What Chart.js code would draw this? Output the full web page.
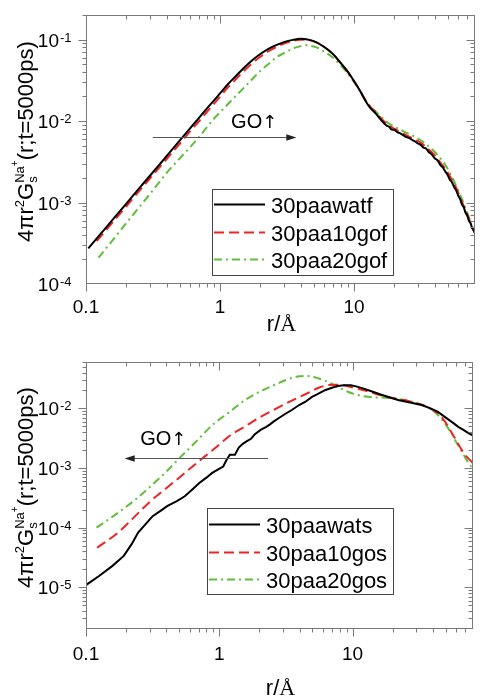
<!DOCTYPE html>
<html>
<head>
<meta charset="utf-8">
<script src="https://cdn.jsdelivr.net/npm/chart.js@4/dist/chart.umd.min.js"></script>
<style>
  html, body { margin: 0; padding: 0; background: #fff; }
  #wrap { position: relative; width: 487px; height: 696px; }
  canvas { position: absolute; left: 0; display: block; }
  #c1 { top: 0; }
  #c2 { top: 340px; }
</style>
</head>
<body>
<div id="wrap">
  <canvas id="c1" width="487" height="340"></canvas>
  <canvas id="c2" width="487" height="356"></canvas>
</div>
<script>
// ---------- data: r in Å, 4πr²Gs(r; t=5000 ps) ----------
// upper panel (…f series)
const rWatF = [0.104, 0.13, 0.16, 0.2, 0.25, 0.3, 0.4, 0.5, 0.6, 0.7, 0.8, 0.9, 1.0, 1.15, 1.3, 1.5, 1.75, 2.0, 2.3, 2.65, 3.0, 3.5, 4.0, 4.5, 5.2, 6.0, 7.0, 8.0, 9.0, 10, 11, 12, 13, 14.5, 16, 17.5, 18.3, 19, 20, 21, 22, 23, 24, 25, 26.2, 27.5, 28.7, 30, 31.5, 33, 34.5, 36, 38, 40, 42, 44, 46, 48, 50, 52, 54, 56, 58, 60, 62, 64, 66, 68, 70, 72, 74, 76, 78, 80];
const gWatF = [2.73e-4, 4.21e-4, 6.3e-4, 9.7e-4, 1.5e-3, 2.13e-3, 3.72e-3, 5.74e-3, 8.2e-3, 0.011, 0.0143, 0.0178, 0.0218, 0.0285, 0.035, 0.0445, 0.056, 0.0665, 0.077, 0.086, 0.093, 0.099, 0.102, 0.1, 0.093, 0.081, 0.066, 0.051, 0.04, 0.031, 0.024, 0.0185, 0.015, 0.0124, 0.0102, 0.0088, 0.0085, 0.0079, 0.0078, 0.0073, 0.0071, 0.0068, 0.0065, 0.0063, 0.0061, 0.0058, 0.0056, 0.0053, 0.0051, 0.0047, 0.0046, 0.0042, 0.0039, 0.0035, 0.0033, 0.0029, 0.0027, 0.0024, 0.00218, 0.0019, 0.00176, 0.00154, 0.0014, 0.00121, 0.0011, 9.4e-4, 8.7e-4, 7.5e-4, 6.9e-4, 6.0e-4, 5.6e-4, 4.9e-4, 4.6e-4, 4.2e-4];

const r10goF = [0.12, 0.16, 0.2, 0.25, 0.3, 0.4, 0.5, 0.6, 0.7, 0.8, 0.9, 1.0, 1.15, 1.3, 1.5, 1.75, 2.0, 2.3, 2.65, 3.0, 3.5, 4.0, 4.5, 5.2, 6.0, 7.0, 8.0, 9.0, 10, 11, 12, 13, 14.5, 16, 17.5, 19, 21, 23, 25, 27.5, 30, 33, 36, 40, 44, 48, 52, 56, 60, 64, 68, 72, 76, 80];
const g10goF = [3.35e-4, 5.85e-4, 9.0e-4, 1.39e-3, 1.97e-3, 3.42e-3, 5.25e-3, 7.5e-3, 0.01, 0.013, 0.0162, 0.0198, 0.026, 0.032, 0.0408, 0.0515, 0.0615, 0.072, 0.0815, 0.089, 0.096, 0.0995, 0.099, 0.093, 0.081, 0.066, 0.051, 0.04, 0.031, 0.0242, 0.0188, 0.0155, 0.0128, 0.0107, 0.0093, 0.0084, 0.0077, 0.0071, 0.0066, 0.0061, 0.0057, 0.0051, 0.0045, 0.0038, 0.0031, 0.0026, 0.0021, 0.0017, 0.00132, 0.00102, 8.0e-4, 6.4e-4, 5.0e-4, 4.2e-4];

const r20goF = [0.124, 0.16, 0.2, 0.25, 0.3, 0.35, 0.416, 0.5, 0.6, 0.665, 0.8, 0.88, 1.0, 1.157, 1.3, 1.53, 1.75, 2.02, 2.3, 2.66, 3.0, 3.5, 4.0, 4.4, 5.0, 5.5, 6.0, 6.8, 8.0, 9.0, 10, 11, 12, 13, 14.5, 16, 17.5, 19, 21, 23, 25, 27.5, 30, 33, 36, 40, 44, 48, 52, 56, 60, 64, 68, 72, 76, 80];
const g20goF = [2.1e-4, 3.53e-4, 5.6e-4, 8.8e-4, 1.27e-3, 1.75e-3, 2.49e-3, 3.47e-3, 4.8e-3, 5.8e-3, 8.4e-3, 0.0102, 0.0128, 0.0164, 0.02, 0.0262, 0.033, 0.042, 0.05, 0.061, 0.068, 0.0776, 0.083, 0.085, 0.082, 0.0776, 0.071, 0.062, 0.048, 0.038, 0.030, 0.024, 0.0188, 0.0157, 0.0131, 0.0112, 0.0098, 0.0089, 0.0082, 0.0076, 0.0071, 0.0066, 0.0061, 0.0055, 0.0049, 0.0042, 0.0035, 0.0029, 0.0023, 0.0018, 0.0014, 0.0011, 8.5e-4, 6.6e-4, 5.1e-4, 4.3e-4];

// lower panel (…s series)
const rWatS = [0.1, 0.126, 0.158, 0.192, 0.22, 0.246, 0.28, 0.316, 0.36, 0.406, 0.48, 0.551, 0.63, 0.708, 0.8, 0.885, 0.98, 1.07, 1.13, 1.2, 1.31, 1.4, 1.5, 1.6, 1.73, 1.85, 2.04, 2.25, 2.4, 2.55, 2.8, 3.18, 3.5, 3.97, 4.4, 4.96, 5.5, 6.2, 7.0, 7.74, 8.6, 9.7, 10.8, 12.1, 14, 16, 19, 22.3, 27, 32.9, 38, 43.4, 50, 57.4, 62, 67.8, 72, 75.7, 78, 80];
const gWatS = [1.09e-5, 1.56e-5, 2.29e-5, 3.36e-5, 5.3e-5, 8.3e-5, 1.15e-4, 1.56e-4, 1.9e-4, 2.29e-4, 2.8e-4, 3.36e-4, 4.4e-4, 5.6e-4, 6.9e-4, 8.3e-4, 9.5e-4, 1.06e-3, 1.35e-3, 1.67e-3, 1.67e-3, 2.2e-3, 2.55e-3, 2.8e-3, 3.1e-3, 3.7e-3, 4.35e-3, 4.9e-3, 5.4e-3, 6.0e-3, 6.9e-3, 8.3e-3, 9.4e-3, 0.0114, 0.0128, 0.0156, 0.0175, 0.0202, 0.0222, 0.0238, 0.0244, 0.0245, 0.0232, 0.0215, 0.0192, 0.0173, 0.0152, 0.0137, 0.0126, 0.0114, 0.0101, 8.8e-3, 7.0e-3, 5.6e-3, 4.9e-3, 4.35e-3, 4.0e-3, 3.73e-3, 3.6e-3, 3.8e-3];

const r10goS = [0.121, 0.174, 0.25, 0.304, 0.4, 0.5, 0.6, 0.7, 0.85, 1.0, 1.22, 1.54, 2.0, 2.69, 3.5, 4.7, 5.5, 6.5, 7.5, 8.5, 10, 12, 15, 20, 25, 30, 35, 40, 45, 51.3, 55, 60.6, 66, 71.6, 77.8, 80];
const g10goS = [4.6e-5, 8.3e-5, 1.81e-4, 2.77e-4, 4.6e-4, 6.9e-4, 9.7e-4, 1.29e-3, 1.84e-3, 2.48e-3, 3.59e-3, 4.9e-3, 7.0e-3, 0.01, 0.0135, 0.0185, 0.022, 0.0245, 0.025, 0.0245, 0.0225, 0.0203, 0.0175, 0.015, 0.0137, 0.0122, 0.011, 0.0094, 0.0078, 5.27e-3, 4.0e-3, 2.77e-3, 2.0e-3, 1.56e-3, 1.29e-3, 1.2e-3];

const r20goS = [0.12, 0.174, 0.24, 0.304, 0.4, 0.5, 0.65, 0.9, 1.2, 1.55, 2.1, 2.68, 3.3, 4.0, 4.5, 5.5, 6.5, 7.3, 8.2, 9.2, 10.2, 12, 13.5, 15.5, 17.8, 21, 25, 31, 36, 41, 46, 51.3, 56, 60.6, 66, 71.6, 77.8, 80];
const g20goS = [1.0e-4, 1.78e-4, 3.08e-4, 4.9e-4, 8.7e-4, 1.45e-3, 2.6e-3, 5.4e-3, 8.8e-3, 0.0137, 0.02, 0.0255, 0.031, 0.0345, 0.035, 0.032, 0.028, 0.0245, 0.0215, 0.019, 0.0175, 0.016, 0.0155, 0.0152, 0.0151, 0.0145, 0.0137, 0.0121, 0.0106, 8.8e-3, 6.8e-3, 4.9e-3, 3.6e-3, 2.6e-3, 1.9e-3, 1.37e-3, 1.06e-3, 1.0e-3];

const namesTop = ['30paawatf', '30paa10gof', '30paa20gof'];
const namesBottom = ['30paawats', '30paa10gos', '30paa20gos'];
const xTickLabels = ['0.1', '1', '10'];
const yExpTop = [-4, -3, -2, -1];
const yExpBottom = [-5, -4, -3, -2];

// ---------- styling ----------
const FONT = "'Liberation Sans', Arial, sans-serif";
const SERIF = "'Liberation Serif', 'Times New Roman', serif";
const ARROWFONT = "'DejaVu Sans', sans-serif";
const AXIS = '#7a7a7a';
const COLORS = ['#000000', '#ee2424', '#62bd3a'];
const DASHES = [[], [10, 5], [8, 4, 2, 4]];

function isDecade(v) {
  const l = Math.log10(v);
  return Math.abs(l - Math.round(l)) < 1e-6;
}
function isWholeStep(v) {
  const m = v / Math.pow(10, Math.floor(Math.log10(v) + 1e-9));
  return Math.abs(m - Math.round(m)) < 1e-6;
}

// frame, mirrored ticks, y tick labels with exponents, axis titles
const axesDecor = {
  id: 'axesDecor',
  afterDatasetsDraw(chart, args, o) {
    const { ctx, chartArea: a } = chart;
    const xs = chart.scales.x, ys = chart.scales.y;
    const L = Math.round(a.left) + 0.5, R = Math.round(a.right) - 0.5;
    const T = Math.round(a.top) + 0.5, B = Math.round(a.bottom) - 0.5;
    ctx.save();
    ctx.strokeStyle = AXIS;
    ctx.lineWidth = 1;
    ctx.strokeRect(L, T, R - L, B - T);
    ctx.beginPath();
    xs.ticks.forEach(t => {
      if (!isWholeStep(t.value)) return;
      const px = Math.round(xs.getPixelForValue(t.value)) + 0.5;
      if (px < L - 0.2 || px > R + 0.2) return;
      const len = isDecade(t.value) ? 8 : 4;
      ctx.moveTo(px, B); ctx.lineTo(px, B + len);
      ctx.moveTo(px, T); ctx.lineTo(px, T + len);
    });
    ys.ticks.forEach(t => {
      if (!isWholeStep(t.value)) return;
      const py = Math.round(ys.getPixelForValue(t.value)) + 0.5;
      if (py < T - 0.2 || py > B + 0.2) return;
      const len = isDecade(t.value) ? 8 : 4;
      ctx.moveTo(L, py); ctx.lineTo(L - len, py);
      ctx.moveTo(R, py); ctx.lineTo(R - len, py);
    });
    ctx.stroke();

    // y tick labels: 10 with a raised exponent
    ctx.fillStyle = '#000';
    ctx.textBaseline = 'alphabetic';
    o.yExps.forEach(e => {
      const py = ys.getPixelForValue(Math.pow(10, e));
      ctx.font = `19px ${FONT}`;
      ctx.textAlign = 'right';
      ctx.fillText('10', 59, py + 7);
      ctx.font = `13px ${FONT}`;
      ctx.textAlign = 'left';
      ctx.fillText('-' + Math.abs(e), 60, py + 2);
    });

    // x axis title: r/Å
    ctx.textAlign = 'left';
    ctx.font = `22px ${FONT}`;
    const w1 = ctx.measureText('r/').width;
    ctx.font = `22px ${SERIF}`;
    const w2 = ctx.measureText('Å').width;
    const cx = (a.left + a.right) / 2 + 1;
    ctx.font = `22px ${FONT}`;
    ctx.fillText('r/', cx - (w1 + w2) / 2, o.xTitleBase);
    ctx.font = `22px ${SERIF}`;
    ctx.fillText('Å', cx - (w1 + w2) / 2 + w1, o.xTitleBase);

    // y axis title: 4πr²Gs^Na+(r;t=5000ps), rotated
    const big = `22px ${FONT}`, small = `13px ${FONT}`, tiny = `10px ${FONT}`;
    const mw = (f, t) => { ctx.font = f; return ctx.measureText(t).width; };
    const wA = mw(big, '4πr'), w2s = mw(small, '2'), wG = mw(big, 'G');
    const wS = mw(small, 's'), wNa = mw(small, 'Na'), wP = mw(tiny, '+');
    const wR = mw(big, '(r;t=5000ps)');
    const wStack = Math.max(wS, wNa + wP);
    const total = wA + w2s + wG + wStack + wR;
    ctx.save();
    ctx.translate(33, (a.top + a.bottom) / 2 - 8);
    ctx.rotate(-Math.PI / 2);
    let x = -total / 2;
    ctx.font = big; ctx.fillText('4πr', x, 0); x += wA;
    ctx.font = small; ctx.fillText('2', x, -9); x += w2s;
    ctx.font = big; ctx.fillText('G', x, 0); x += wG;
    ctx.font = small; ctx.fillText('s', x, 4); ctx.fillText('Na', x, -9);
    ctx.font = tiny; ctx.fillText('+', x + wNa, -15); x += wStack;
    ctx.font = big; ctx.fillText('(r;t=5000ps)', x, 0);
    ctx.restore();
    ctx.restore();
  }
};

// "GO↑" arrow drawn in data coordinates
const goArrow = {
  id: 'goArrow',
  afterDatasetsDraw(chart, args, o) {
    const { ctx } = chart;
    const xs = chart.scales.x, ys = chart.scales.y;
    const x0 = xs.getPixelForValue(o.from), x1 = xs.getPixelForValue(o.to);
    const y = Math.round(ys.getPixelForValue(o.at)) + 0.5;
    const dir = Math.sign(x1 - x0);
    ctx.save();
    ctx.strokeStyle = '#555';
    ctx.lineWidth = 1;
    ctx.beginPath(); ctx.moveTo(x0, y); ctx.lineTo(x1 - dir * 6, y); ctx.stroke();
    ctx.fillStyle = '#222';
    ctx.beginPath();
    ctx.moveTo(x1, y); ctx.lineTo(x1 - dir * 10, y - 3.2); ctx.lineTo(x1 - dir * 10, y + 3.2);
    ctx.closePath(); ctx.fill();
    ctx.fillStyle = '#000';
    ctx.textAlign = 'left';
    ctx.textBaseline = 'alphabetic';
    const tx = xs.getPixelForValue(o.textAt[0]), ty = ys.getPixelForValue(o.textAt[1]);
    ctx.font = `20px ${FONT}`;
    ctx.fillText('GO', tx, ty);
    const wGO = ctx.measureText('GO').width;
    ctx.font = `18px ${ARROWFONT}`;
    ctx.fillText('↑', tx + wGO, ty);
    ctx.restore();
  }
};

// boxed legend inside the plot
const boxLegend = {
  id: 'boxLegend',
  afterDraw(chart, args, o) {
    const { ctx } = chart;
    const b = o.box;
    ctx.save();
    ctx.fillStyle = '#fff';
    ctx.fillRect(b.x, b.y, b.w, b.h);
    ctx.strokeStyle = '#444';
    ctx.lineWidth = 1;
    ctx.strokeRect(Math.round(b.x) + 0.5, Math.round(b.y) + 0.5, b.w, b.h);
    chart.data.datasets.forEach((ds, i) => {
      const y = Math.round(b.y + b.rows[i]) + 0.5;
      ctx.strokeStyle = ds.borderColor;
      ctx.lineWidth = 2;
      ctx.setLineDash(ds.borderDash || []);
      ctx.beginPath(); ctx.moveTo(b.x + 2, y); ctx.lineTo(b.x + 53, y); ctx.stroke();
      ctx.setLineDash([]);
      ctx.fillStyle = '#000';
      ctx.font = `22px ${FONT}`;
      ctx.textAlign = 'left';
      ctx.textBaseline = 'alphabetic';
      ctx.fillText(ds.label, b.x + 59, y + 8);
    });
    ctx.restore();
  }
};

function makePanel(canvasId, p) {
  const datasets = p.series.map((s, i) => ({
    label: p.names[i],
    data: s.r.map((r, k) => ({ x: r, y: s.v[k] })),
    borderColor: COLORS[i],
    borderWidth: 2,
    borderDash: DASHES[i],
    pointRadius: 0,
    fill: false,
    tension: s.jagged ? 0 : 0.4,
    cubicInterpolationMode: s.jagged ? 'default' : 'monotone'
  }));
  return new Chart(document.getElementById(canvasId), {
    type: 'line',
    data: { datasets },
    plugins: [axesDecor, goArrow, boxLegend],
    options: {
      responsive: false,
      animation: false,
      events: [],
      layout: { padding: { top: p.padTop, right: 1, left: 0, bottom: 0 } },
      plugins: {
        legend: { display: false },
        tooltip: { enabled: false },
        axesDecor: { yExps: p.yExps, xTitleBase: p.xTitleBase },
        goArrow: p.arrow,
        boxLegend: { box: p.legendBox }
      },
      scales: {
        x: {
          type: 'logarithmic',
          min: 0.1, max: 80,
          grid: { display: false, drawTicks: false },
          border: { display: false },
          ticks: {
            autoSkip: false, maxRotation: 0, minRotation: 0,
            padding: p.xLabelPad, color: '#000',
            font: { family: FONT, size: 19 },
            callback: v => {
              if (!isDecade(v)) return '';
              const lab = xTickLabels.find(l => Math.abs(parseFloat(l) - v) < 1e-6 * v);
              return lab || '';
            }
          },
          afterFit: s => { s.height = p.xAxisH; }
        },
        y: {
          type: 'logarithmic',
          min: p.ymin, max: p.ymax,
          grid: { display: false, drawTicks: false },
          border: { display: false },
          ticks: { display: false },
          afterFit: s => { s.width = 86; }
        }
      }
    }
  });
}

makePanel('c1', {
  names: namesTop,
  series: [
    { r: rWatF, v: gWatF },
    { r: r10goF, v: g10goF },
    { r: r20goF, v: g20goF }
  ],
  padTop: 15, xAxisH: 56, xLabelPad: 12, xTitleBase: 331,
  ymin: 1e-4, ymax: 0.2, yExps: yExpTop,
  arrow: { from: 0.315, to: 3.71, at: 6.38e-3, textAt: [1.21, 8.1e-3] },
  legendBox: { x: 212, y: 189, w: 181, h: 86, rows: [15, 42.7, 70] }
});

makePanel('c2', {
  names: namesBottom,
  series: [
    { r: rWatS, v: gWatS, jagged: true },
    { r: r10goS, v: g10goS },
    { r: r20goS, v: g20goS }
  ],
  padTop: 22, xAxisH: 67, xLabelPad: 14, xTitleBase: 355,
  ymin: 2e-6, ymax: 0.06, yExps: yExpBottom,
  arrow: { from: 2.315, to: 0.195, at: 1.47e-3, textAt: [0.255, 2.45e-3] },
  legendBox: { x: 207, y: 168, w: 186, h: 86, rows: [16, 43.7, 71] }
});
</script>
</body>
</html>
